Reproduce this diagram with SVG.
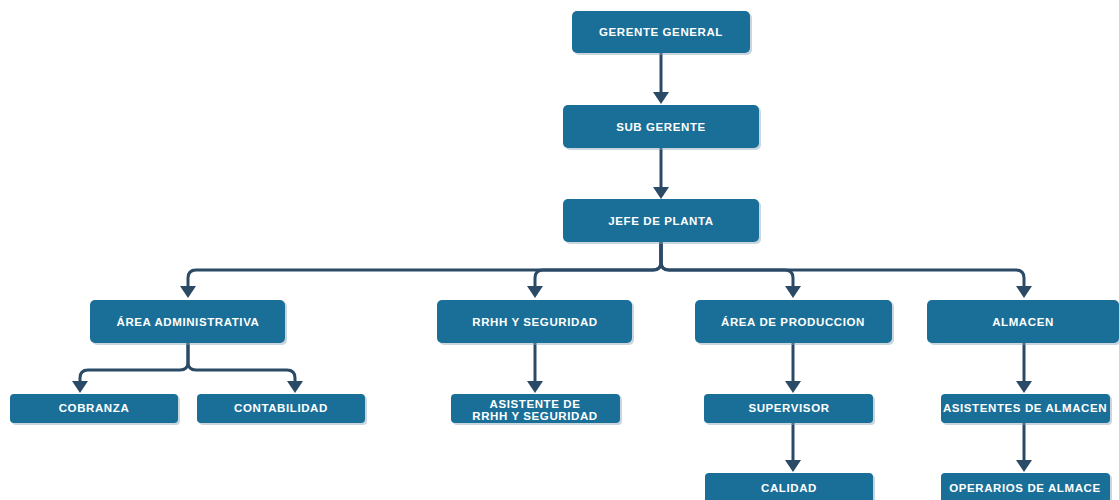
<svg xmlns="http://www.w3.org/2000/svg" width="1119" height="500" viewBox="0 0 1119 500">
<style>
.box{fill:#1a6f98;}
.sh{fill:#8aa3b3;opacity:0.45;}
.t{fill:#ffffff;font-family:"Liberation Sans",Arial,sans-serif;font-weight:bold;font-size:11.5px;letter-spacing:0.6px;text-anchor:middle;}
.c{fill:none;stroke:#2b4a66;stroke-width:3;}
</style>
<defs>
<marker id="ah" viewBox="0 0 12 16" markerWidth="12" markerHeight="16" refX="0" refY="8" orient="auto" markerUnits="userSpaceOnUse">
<path d="M0,0 L12,8 L0,16 z" fill="#2b4a66"/>
</marker>
</defs>
<rect width="1119" height="500" fill="#ffffff"/>
<g id="connectors">
<path class="c" marker-end="url(#ah)" d="M661,53 V92"/>
<path class="c" marker-end="url(#ah)" d="M661,148 V187"/>
<path class="c" marker-end="url(#ah)" d="M661,242 V262 Q661,270 653,270 H196 Q188,270 188,278 V286"/>
<path class="c" marker-end="url(#ah)" d="M661,242 V262 Q661,270 653,270 H543 Q535,270 535,278 V286"/>
<path class="c" marker-end="url(#ah)" d="M661,242 V262 Q661,270 669,270 H785 Q793,270 793,278 V286"/>
<path class="c" marker-end="url(#ah)" d="M661,242 V262 Q661,270 669,270 H1016 Q1024,270 1024,278 V286"/>
<path class="c" marker-end="url(#ah)" d="M188,343 V362 Q188,370 180,370 H88 Q80,370 80,378 V381"/>
<path class="c" marker-end="url(#ah)" d="M188,343 V362 Q188,370 196,370 H287 Q295,370 295,378 V381"/>
<path class="c" marker-end="url(#ah)" d="M535,343 V381"/>
<path class="c" marker-end="url(#ah)" d="M793,343 V381"/>
<path class="c" marker-end="url(#ah)" d="M793,423 V460"/>
<path class="c" marker-end="url(#ah)" d="M1024,343 V381"/>
<path class="c" marker-end="url(#ah)" d="M1024,423 V460"/>
</g>
<g id="gerente-general"><rect class="sh" x="574" y="13" width="178" height="42" rx="5"/><rect class="box" x="572" y="11" width="178" height="42" rx="5"/><text class="t" x="661" y="36">GERENTE GENERAL</text></g>
<g id="sub-gerente"><rect class="sh" x="565" y="107" width="196" height="43" rx="5"/><rect class="box" x="563" y="105" width="196" height="43" rx="5"/><text class="t" x="661" y="131">SUB GERENTE</text></g>
<g id="jefe-planta"><rect class="sh" x="565" y="201" width="196" height="43" rx="5"/><rect class="box" x="563" y="199" width="196" height="43" rx="5"/><text class="t" x="661" y="225">JEFE DE PLANTA</text></g>
<g id="area-administrativa"><rect class="sh" x="92" y="302" width="195" height="43" rx="5"/><rect class="box" x="90" y="300" width="195" height="43" rx="5"/><text class="t" x="188" y="326">ÁREA ADMINISTRATIVA</text></g>
<g id="rrhh-seguridad"><rect class="sh" x="439" y="302" width="195" height="43" rx="5"/><rect class="box" x="437" y="300" width="195" height="43" rx="5"/><text class="t" x="535" y="326">RRHH Y SEGURIDAD</text></g>
<g id="area-produccion"><rect class="sh" x="697" y="302" width="197" height="43" rx="5"/><rect class="box" x="695" y="300" width="197" height="43" rx="5"/><text class="t" x="793" y="326">ÁREA DE PRODUCCION</text></g>
<g id="almacen"><rect class="sh" x="929" y="302" width="192" height="43" rx="5"/><rect class="box" x="927" y="300" width="192" height="43" rx="5"/><text class="t" x="1023" y="326">ALMACEN</text></g>
<g id="cobranza"><rect class="sh" x="12" y="396" width="168" height="29" rx="4"/><rect class="box" x="10" y="394" width="168" height="29" rx="4"/><text class="t" x="94" y="412">COBRANZA</text></g>
<g id="contabilidad"><rect class="sh" x="199" y="396" width="168" height="29" rx="4"/><rect class="box" x="197" y="394" width="168" height="29" rx="4"/><text class="t" x="281" y="412">CONTABILIDAD</text></g>
<g id="asistente-rrhh"><rect class="sh" x="453" y="396" width="169" height="29" rx="4"/><rect class="box" x="451" y="394" width="169" height="29" rx="4"/><text class="t" x="535" y="408">ASISTENTE DE</text><text class="t" x="535" y="420">RRHH Y SEGURIDAD</text></g>
<g id="supervisor"><rect class="sh" x="706" y="396" width="169" height="29" rx="4"/><rect class="box" x="704" y="394" width="169" height="29" rx="4"/><text class="t" x="789" y="412">SUPERVISOR</text></g>
<g id="asistentes-almacen"><rect class="sh" x="943" y="396" width="169" height="29" rx="4"/><rect class="box" x="941" y="394" width="169" height="29" rx="4"/><text class="t" x="1025" y="412">ASISTENTES DE ALMACEN</text></g>
<g id="calidad"><rect class="sh" x="707" y="475" width="168" height="32" rx="4"/><rect class="box" x="705" y="473" width="168" height="32" rx="4"/><text class="t" x="789" y="492">CALIDAD</text></g>
<g id="operarios-almacen"><rect class="sh" x="943" y="475" width="169" height="32" rx="4"/><rect class="box" x="941" y="473" width="169" height="32" rx="4"/><text class="t" x="1025" y="492">OPERARIOS DE ALMACE</text></g>
</svg>
